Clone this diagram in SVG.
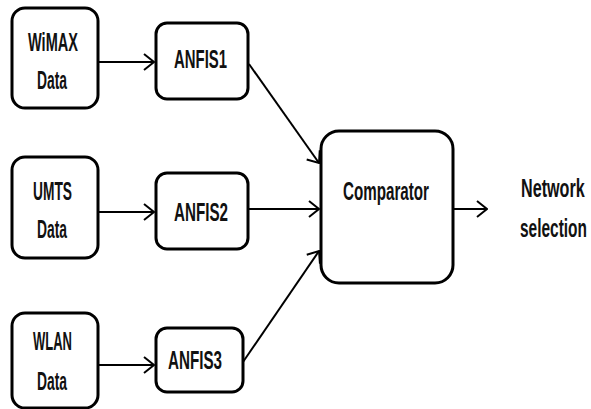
<svg xmlns="http://www.w3.org/2000/svg" width="591" height="409" viewBox="0 0 591 409">
  <defs>
    <style>
      .box { fill: #ffffff; stroke: #000000; stroke-width: 3; }
      .lbl { font-family: "Liberation Sans", Arial, sans-serif; font-weight: bold; font-size: 25px; fill: #111111; }
      .wire { stroke: #000000; stroke-width: 2; fill: none; }
    </style>
    <marker id="arrow" viewBox="0 0 12 18" refX="11" refY="9" markerWidth="12" markerHeight="18" markerUnits="userSpaceOnUse" orient="auto">
      <path d="M1,1 L11,9 L1,17" fill="none" stroke="#000000" stroke-width="2"/>
    </marker>
  </defs>
  <rect width="591" height="409" fill="#ffffff"/>

  <!-- connectors -->
  <g id="connectors">
    <line class="wire" x1="98" y1="62" x2="154" y2="62" marker-end="url(#arrow)"/>
    <line class="wire" x1="98" y1="212" x2="154" y2="212" marker-end="url(#arrow)"/>
    <line class="wire" x1="98" y1="365" x2="154" y2="365" marker-end="url(#arrow)"/>
    <line class="wire" x1="249" y1="64" x2="319" y2="163" marker-end="url(#arrow)"/>
    <line class="wire" x1="248" y1="209" x2="319" y2="209" marker-end="url(#arrow)"/>
    <line class="wire" x1="243" y1="362" x2="319" y2="251" marker-end="url(#arrow)"/>
    <line class="wire" x1="453" y1="209" x2="487" y2="209" marker-end="url(#arrow)"/>
  </g>

  <!-- source nodes -->
  <g id="wimax">
    <rect class="box" x="12" y="8" width="86" height="100" rx="13"/>
    <text class="lbl" x="28" y="51" textLength="50" lengthAdjust="spacingAndGlyphs">WiMAX</text>
    <text class="lbl" x="37" y="89" textLength="30" lengthAdjust="spacingAndGlyphs">Data</text>
  </g>
  <g id="umts">
    <rect class="box" x="12" y="157" width="86" height="101" rx="13"/>
    <text class="lbl" x="33" y="200" textLength="39" lengthAdjust="spacingAndGlyphs">UMTS</text>
    <text class="lbl" x="37" y="238" textLength="30" lengthAdjust="spacingAndGlyphs">Data</text>
  </g>
  <g id="wlan">
    <rect class="box" x="12" y="313" width="86" height="95" rx="13"/>
    <text class="lbl" x="33" y="350" textLength="39" lengthAdjust="spacingAndGlyphs">WLAN</text>
    <text class="lbl" x="37" y="390" textLength="30" lengthAdjust="spacingAndGlyphs">Data</text>
  </g>

  <!-- ANFIS nodes -->
  <g id="anfis1">
    <rect class="box" x="156" y="23" width="92" height="76" rx="11"/>
    <text class="lbl" x="174" y="68" textLength="53" lengthAdjust="spacingAndGlyphs">ANFIS1</text>
  </g>
  <g id="anfis2">
    <rect class="box" x="156" y="173" width="92" height="76" rx="11"/>
    <text class="lbl" x="174" y="221" textLength="54" lengthAdjust="spacingAndGlyphs">ANFIS2</text>
  </g>
  <g id="anfis3">
    <rect class="box" x="156" y="328" width="87" height="64" rx="11"/>
    <text class="lbl" x="168" y="369" textLength="54" lengthAdjust="spacingAndGlyphs">ANFIS3</text>
  </g>

  <!-- comparator -->
  <g id="comparator">
    <rect class="box" x="321" y="131" width="132" height="152" rx="18"/>
    <text class="lbl" x="343" y="200" textLength="86" lengthAdjust="spacingAndGlyphs">Comparator</text>
  </g>

  <!-- output label, condensed horizontally to fit the right margin -->
  <g id="network-selection">
    <text class="lbl" transform="translate(521 197) scale(0.65 1)" x="0" y="0" textLength="98" lengthAdjust="spacingAndGlyphs">Network</text>
    <text class="lbl" transform="translate(520 237) scale(0.62 1)" x="0" y="0" textLength="108" lengthAdjust="spacingAndGlyphs">selection</text>
  </g>
</svg>
